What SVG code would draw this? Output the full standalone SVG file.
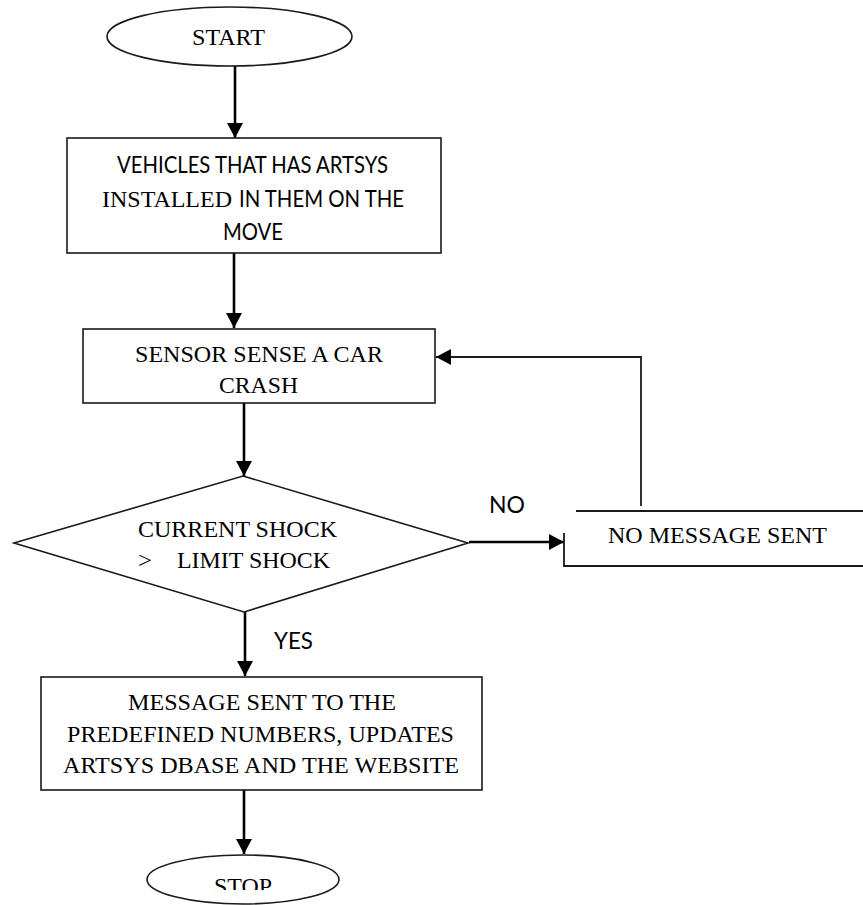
<svg xmlns="http://www.w3.org/2000/svg" width="863" height="905" viewBox="0 0 863 905">
  <style>
    .shape { fill: #ffffff; stroke: #1a1a1a; stroke-width: 1.6; }
    .edge { fill: none; stroke: #000000; stroke-width: 2.6; }
    .thin { fill: none; stroke: #1a1a1a; stroke-width: 1.8; }
    .serif { font-family: "Liberation Serif", "Times New Roman", serif; font-size: 24px; fill: #000; }
    .sans { font-family: Lato, "Liberation Sans", Arial, sans-serif; font-size: 23px; fill: #000; }
  </style>
  <defs>
    <marker id="arrow" markerUnits="userSpaceOnUse" markerWidth="15" markerHeight="16" viewBox="0 0 15 16" refX="15" refY="8" orient="auto">
      <path d="M0,0 L15,8 L0,16 Z" fill="#000"/>
    </marker>
    <clipPath id="stopclip">
      <rect x="140" y="850" width="210" height="40"/>
    </clipPath>
  </defs>
  <rect width="863" height="905" fill="#ffffff"/>

  <g id="connectors">
    <line class="edge" x1="235" y1="66" x2="235" y2="138" marker-end="url(#arrow)"/>
    <line class="edge" x1="234" y1="253" x2="234" y2="328" marker-end="url(#arrow)"/>
    <line class="edge" x1="244" y1="403" x2="244" y2="476" marker-end="url(#arrow)"/>
    <line class="edge" x1="469" y1="542" x2="564" y2="542" marker-end="url(#arrow)"/>
    <polyline class="thin" points="641,506 641,357 436,357" marker-end="url(#arrow)"/>
    <line class="edge" x1="245" y1="612" x2="245" y2="676" marker-end="url(#arrow)"/>
    <line class="edge" x1="244" y1="790" x2="244" y2="854" marker-end="url(#arrow)"/>
    <text class="sans" x="489" y="513" font-size="26" textLength="36" lengthAdjust="spacingAndGlyphs">NO</text>
    <text class="sans" x="274" y="649" font-size="26" textLength="39" lengthAdjust="spacingAndGlyphs">YES</text>
  </g>

  <g id="start">
    <ellipse class="shape" cx="229.5" cy="36.5" rx="122.5" ry="29.5"/>
    <text class="serif" x="192" y="45" textLength="73" lengthAdjust="spacingAndGlyphs">START</text>
  </g>

  <g id="vehicles">
    <rect class="shape" x="67" y="138" width="374" height="115"/>
    <text class="sans" x="117" y="173" textLength="271" lengthAdjust="spacingAndGlyphs">VEHICLES THAT HAS ARTSYS</text>
    <text class="serif" x="102" y="207" textLength="130" lengthAdjust="spacingAndGlyphs">INSTALLED</text>
    <text class="sans" x="239" y="207" textLength="165" lengthAdjust="spacingAndGlyphs">IN THEM ON THE</text>
    <text class="sans" x="223" y="240" textLength="60" lengthAdjust="spacingAndGlyphs">MOVE</text>
  </g>

  <g id="sensor">
    <rect class="shape" x="83" y="329" width="352" height="74"/>
    <text class="serif" x="135" y="362" textLength="248" lengthAdjust="spacingAndGlyphs">SENSOR SENSE A CAR</text>
    <text class="serif" x="219" y="393" textLength="79" lengthAdjust="spacingAndGlyphs">CRASH</text>
  </g>

  <g id="decision">
    <polygon class="shape" points="243,476 468,543 244,612 14,543"/>
    <text class="serif" x="138" y="537" textLength="199" lengthAdjust="spacingAndGlyphs">CURRENT SHOCK</text>
    <text class="serif" x="138" y="568" textLength="14" lengthAdjust="spacingAndGlyphs">&gt;</text>
    <text class="serif" x="177" y="568" textLength="153" lengthAdjust="spacingAndGlyphs">LIMIT SHOCK</text>
  </g>

  <g id="no-message">
    <line class="thin" x1="576" y1="511" x2="863" y2="511"/>
    <polyline class="thin" points="564,533 564,566 863,566"/>
    <text class="serif" x="608" y="543" textLength="219" lengthAdjust="spacingAndGlyphs">NO MESSAGE SENT</text>
  </g>

  <g id="message">
    <rect class="shape" x="41" y="677" width="441" height="113"/>
    <text class="serif" x="128" y="710" textLength="268" lengthAdjust="spacingAndGlyphs">MESSAGE SENT TO THE</text>
    <text class="serif" x="67" y="742" textLength="387" lengthAdjust="spacingAndGlyphs">PREDEFINED NUMBERS, UPDATES</text>
    <text class="serif" x="63" y="773" textLength="396" lengthAdjust="spacingAndGlyphs">ARTSYS DBASE AND THE WEBSITE</text>
  </g>

  <g id="stop">
    <ellipse class="shape" cx="243" cy="879.5" rx="96" ry="24.5"/>
    <text class="serif" x="214" y="894" textLength="58" lengthAdjust="spacingAndGlyphs" clip-path="url(#stopclip)">STOP</text>
  </g>
</svg>
